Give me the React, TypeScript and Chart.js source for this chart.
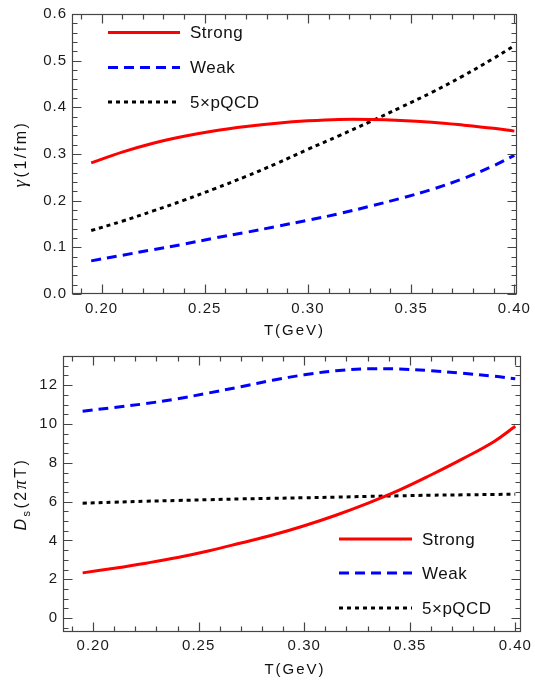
import React, { useEffect, useRef } from "react";
import { Chart, registerables } from "chart.js";

Chart.register(...registerables);

// ---------- data ----------
const T = [0.195, 0.21, 0.225, 0.24, 0.255, 0.27, 0.285, 0.3, 0.315, 0.33, 0.345, 0.36, 0.375, 0.39, 0.4];

const gammaStrong = [0.281, 0.304, 0.323, 0.338, 0.35, 0.359, 0.366, 0.371, 0.374, 0.374, 0.372, 0.368, 0.362, 0.355, 0.349];
const gammaWeak = [0.071, 0.083, 0.095, 0.107, 0.12, 0.132, 0.145, 0.158, 0.172, 0.188, 0.205, 0.224, 0.247, 0.275, 0.297];
const gammaPQCD = [0.136, 0.156, 0.178, 0.201, 0.226, 0.252, 0.28, 0.31, 0.339, 0.369, 0.4, 0.432, 0.467, 0.505, 0.532];

const dsStrong = [2.33, 2.57, 2.83, 3.12, 3.47, 3.87, 4.28, 4.76, 5.3, 5.91, 6.59, 7.37, 8.2, 9.1, 9.88];
const dsWeak = [10.66, 10.85, 11.05, 11.3, 11.6, 11.92, 12.25, 12.53, 12.74, 12.84, 12.83, 12.74, 12.61, 12.46, 12.33];
const dsPQCD = [5.92, 5.97, 6.02, 6.06, 6.1, 6.14, 6.17, 6.2, 6.23, 6.27, 6.3, 6.33, 6.35, 6.37, 6.38];

const seriesLabels = ["Strong", "Weak", "5×pQCD"];
const xTicks = [0.2, 0.25, 0.3, 0.35, 0.4];
const gammaTicks = [0, 0.1, 0.2, 0.3, 0.4, 0.5, 0.6];
const dsTicks = [0, 2, 4, 6, 8, 10, 12];

const FONT = "'Liberation Sans', Arial, sans-serif";
const SERIF = "'Liberation Serif', 'DejaVu Serif', serif";

// ---------- plugins ----------
const spacingPlugin = {
  id: "spacing",
  beforeDraw(chart: any) {
    (chart.ctx as any).letterSpacing = "1px";
  },
  afterDatasetsDraw(chart: any) {
    (chart.ctx as any).letterSpacing = "0px";
  },
};

const frameTicksPlugin = {
  id: "frameTicks",
  afterDatasetsDraw(chart: any, _args: any, opts: any) {
    const { ctx, chartArea: a, scales } = chart;
    const xs = scales.x;
    const ys = scales.y;
    ctx.save();
    ctx.strokeStyle = opts.color;
    ctx.lineWidth = 1.2;
    ctx.setLineDash([]);
    const L = Math.round(a.left) + 0.5;
    const R = Math.round(a.right) - 0.5;
    const Tp = Math.round(a.top) + 0.5;
    const B = Math.round(a.bottom) - 0.5;
    ctx.strokeRect(L, Tp, R - L, B - Tp);
    ctx.beginPath();
    const xi0 = Math.ceil(xs.min / opts.xStep - 1e-6);
    const xi1 = Math.floor(xs.max / opts.xStep + 1e-6);
    for (let i = xi0; i <= xi1; i++) {
      const v = i * opts.xStep;
      const len = i % opts.xEvery === 0 ? opts.major : opts.minor;
      const px = Math.round(xs.getPixelForValue(v)) + 0.5;
      ctx.moveTo(px, B);
      ctx.lineTo(px, B - len);
      ctx.moveTo(px, Tp);
      ctx.lineTo(px, Tp + len);
    }
    const yi0 = Math.ceil(ys.min / opts.yStep - 1e-6);
    const yi1 = Math.floor(ys.max / opts.yStep + 1e-6);
    for (let i = yi0; i <= yi1; i++) {
      const v = i * opts.yStep;
      const len = ((i % opts.yEvery) + opts.yEvery) % opts.yEvery === 0 ? opts.major : opts.minor;
      const py = Math.round(ys.getPixelForValue(v)) + 0.5;
      ctx.moveTo(L, py);
      ctx.lineTo(L + len, py);
      ctx.moveTo(R, py);
      ctx.lineTo(R - len, py);
    }
    ctx.stroke();
    ctx.restore();
  },
};

const legendPlugin = {
  id: "customLegend",
  afterDraw(chart: any, _args: any, opts: any) {
    const { ctx } = chart;
    ctx.save();
    chart.data.datasets.forEach((ds: any, i: number) => {
      const y = opts.ys[i];
      ctx.strokeStyle = ds.borderColor;
      ctx.lineWidth = ds.borderWidth;
      ctx.setLineDash(ds.borderDash || []);
      ctx.lineCap = "butt";
      ctx.beginPath();
      ctx.moveTo(opts.x1, y);
      ctx.lineTo(opts.x2, y);
      ctx.stroke();
      ctx.setLineDash([]);
      ctx.fillStyle = "#111";
      ctx.font = `${opts.size}px ${FONT}`;
      (ctx as any).letterSpacing = "0.5px";
      ctx.textBaseline = "middle";
      ctx.textAlign = "left";
      ctx.fillText(ds.label, opts.tx, y + 1);
    });
    ctx.restore();
  },
};

const titlesPlugin = {
  id: "axisTitles",
  afterDraw(chart: any, _args: any, opts: any) {
    const { ctx, chartArea: a } = chart;
    ctx.save();
    ctx.fillStyle = "#111";
    ctx.font = `${opts.size}px ${FONT}`;
    (ctx as any).letterSpacing = "2px";
    ctx.textAlign = "center";
    ctx.textBaseline = "middle";
    ctx.fillText(opts.xTitle, (a.left + a.right) / 2 + opts.xShift, a.bottom + opts.xOffset);
    const segs = opts.ySegs as any[];
    const ysz = opts.ySize;
    (ctx as any).letterSpacing = opts.ySpacing;
    const fontFor = (s: any) =>
      `${s.italic ? "italic " : ""}${s.small ? Math.round(ysz * 0.7) : Math.round(ysz * (s.scale || 1))}px ${s.serif ? SERIF : FONT}`;
    let w = 0;
    segs.forEach((s) => {
      ctx.font = fontFor(s);
      w += ctx.measureText(s.t).width;
    });
    const cy = (a.top + a.bottom) / 2;
    ctx.translate(opts.yX, cy);
    ctx.rotate(-Math.PI / 2);
    ctx.textAlign = "left";
    ctx.textBaseline = "alphabetic";
    let x = -w / 2;
    const base = ysz * 0.36;
    segs.forEach((s) => {
      ctx.font = fontFor(s);
      ctx.fillText(s.t, x, base + (s.small ? ysz * 0.25 : 0));
      x += ctx.measureText(s.t).width;
    });
    ctx.restore();
  },
};

function makeDatasets(vals: number[][]) {
  const styles = [
    { borderColor: "#ff0000", borderWidth: 3, borderDash: [] as number[] },
    { borderColor: "#0000ff", borderWidth: 3, borderDash: [10, 6] },
    { borderColor: "#000000", borderWidth: 3, borderDash: [4, 4] },
  ];
  return vals.map((v, i) => ({
    label: seriesLabels[i],
    data: T.map((t, j) => ({ x: t, y: v[j] })),
    ...styles[i],
    pointRadius: 0,
    fill: false,
    tension: 0.4,
  }));
}

function makeConfig(p: any) {
  return {
    type: "line" as const,
    data: { datasets: makeDatasets(p.vals) },
    options: {
      animation: false as const,
      responsive: false,
      devicePixelRatio: 1,
      layout: { padding: { top: p.padTop, right: p.padRight, left: 0, bottom: 0 } },
      plugins: {
        legend: { display: false },
        tooltip: { enabled: false },
        frameTicks: {
          color: "#454545",
          xStep: 0.01,
          xEvery: 5,
          yStep: p.yStep,
          yEvery: p.yEvery,
          major: 9,
          minor: 5,
        },
        customLegend: p.legend,
        axisTitles: p.titles,
      },
      scales: {
        x: {
          type: "linear" as const,
          min: 0.1857,
          max: p.xMax,
          grid: { display: false, drawTicks: false },
          border: { display: false },
          afterBuildTicks: (s: any) => {
            s.ticks = xTicks.map((v) => ({ value: v }));
          },
          afterFit: (s: any) => {
            s.height = p.xHeight;
          },
          ticks: {
            padding: p.xPad,
            color: "#1a1a1a",
            font: { family: FONT, size: 15 },
            maxRotation: 0,
            autoSkip: false,
            callback: (v: any) => Number(v).toFixed(2),
          },
        },
        y: {
          type: "linear" as const,
          min: p.yMin,
          max: p.yMax,
          grid: { display: false, drawTicks: false },
          border: { display: false },
          afterBuildTicks: (s: any) => {
            s.ticks = p.yTicks.map((v: number) => ({ value: v }));
          },
          afterFit: (s: any) => {
            s.width = p.yWidth;
          },
          ticks: {
            padding: 5,
            color: "#1a1a1a",
            font: { family: FONT, size: 15 },
            autoSkip: false,
            callback: p.yFmt,
          },
        },
      },
    },
    plugins: [spacingPlugin, frameTicksPlugin, legendPlugin, titlesPlugin],
  };
}

export default function App() {
  const topRef = useRef<HTMLCanvasElement | null>(null);
  const botRef = useRef<HTMLCanvasElement | null>(null);

  useEffect(() => {
    const top = new Chart(
      topRef.current as HTMLCanvasElement,
      makeConfig({
        vals: [gammaStrong, gammaWeak, gammaPQCD],
        padTop: 13,
        padRight: 12.3,
        xMax: 0.4013,
        xHeight: 48,
        xPad: 6,
        yMin: 0,
        yMax: 0.6,
        yTicks: gammaTicks,
        yWidth: 72,
        yStep: 0.02,
        yEvery: 5,
        yFmt: (v: any) => Number(v).toFixed(1),
        legend: { x1: 108, x2: 180, tx: 190, ys: [32.5, 67.5, 102], size: 17 },
        titles: {
          size: 15,
          ySize: 16,
          ySpacing: "2.5px",
          xTitle: "T(GeV)",
          xShift: 0,
          xOffset: 37,
          yX: 20,
          ySegs: [{ t: "γ", italic: true, serif: true, scale: 1.2 }, { t: "(1/fm)" }],
        },
      }) as any
    );
    const bot = new Chart(
      botRef.current as HTMLCanvasElement,
      makeConfig({
        vals: [dsStrong, dsWeak, dsPQCD],
        padTop: 6.3,
        padRight: 12,
        xMax: 0.4027,
        xHeight: 52.7,
        xPad: 5,
        yMin: -0.73,
        yMax: 13.5,
        yTicks: dsTicks,
        yWidth: 63,
        yStep: 0.5,
        yEvery: 4,
        yFmt: (v: any) => String(Math.round(Number(v))),
        legend: { x1: 339, x2: 412, tx: 422, ys: [197, 231, 266], size: 17 },
        titles: {
          size: 15,
          ySize: 16,
          ySpacing: "2.5px",
          xTitle: "T(GeV)",
          xShift: 3,
          xOffset: 38,
          yX: 20,
          ySegs: [
            { t: "D", italic: true },
            { t: "s", small: true },
            { t: "(2" },
            { t: "π", italic: true, serif: true, scale: 1.15 },
            { t: "T)" },
          ],
        },
      }) as any
    );
    return () => {
      top.destroy();
      bot.destroy();
    };
  }, []);

  return (
    <div style={{ position: "absolute", left: 0, top: 0, width: 535, height: 685, background: "#fff" }}>
      <canvas ref={topRef} width={535} height={342} style={{ position: "absolute", left: 0, top: 0, width: 535, height: 342 }} />
      <canvas ref={botRef} width={535} height={343} style={{ position: "absolute", left: 0, top: 342, width: 535, height: 343 }} />
    </div>
  );
}
